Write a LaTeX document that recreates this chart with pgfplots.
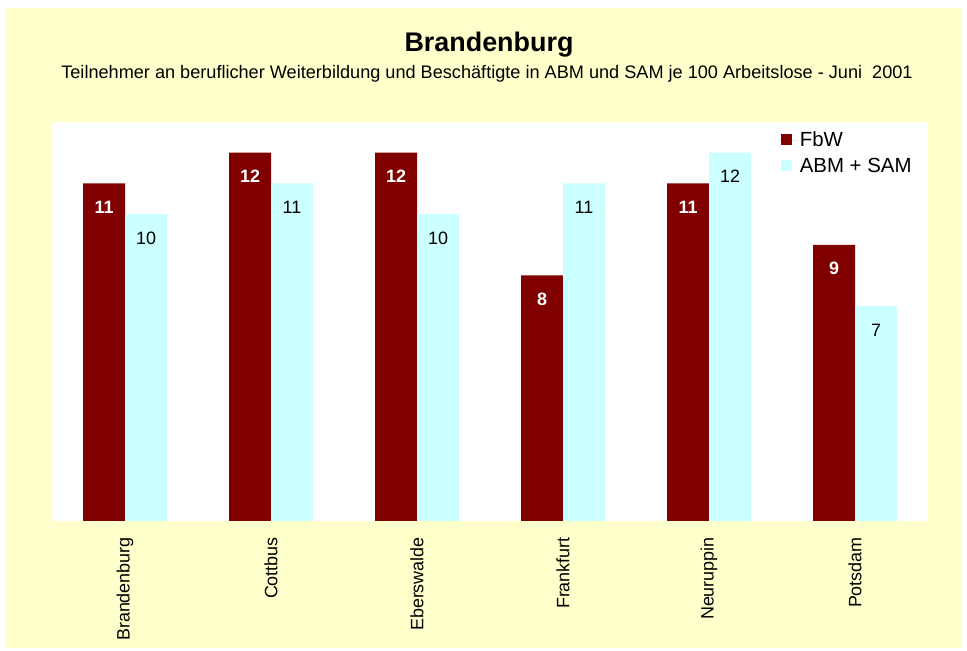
\documentclass[border=0pt]{standalone}
\usepackage{pgfplots}
\pgfplotsset{compat=1.18}
\usepackage{fontspec}
\setmainfont{Liberation Sans}
\definecolor{bgyellow}{RGB}{255,255,204}
\definecolor{fbwred}{RGB}{128,0,0}
\definecolor{abmcyan}{RGB}{204,255,255}

\begin{document}
\begin{tikzpicture}[x=1bp,y=1bp]
% page and yellow panel
\path[use as bounding box,fill=white] (0,0) rectangle (967,651);
\fill[bgyellow] (5,3) rectangle (962,643);
\node[font=\bfseries\fontsize{27}{30}\selectfont] at (489,606) {Brandenburg};
\node[font=\fontsize{18.2}{21}\selectfont] at (487,577)
  {Teilnehmer an beruflicher Weiterbildung und Besch\"aftigte in ABM und SAM je 100 Arbeitslose - Juni\ \ 2001};
\begin{axis}[
  at={(52bp,130bp)}, anchor=south west,
  scale only axis, width=876bp, height=399bp,
  axis background/.style={fill=white},
  axis line style={draw=none},
  ybar=0pt, bar width=42bp,
  ymin=0, ymax=13, ytick=\empty,
  xmin=-0.5, xmax=5.5,
  xtick={0,1,2,3,4,5},
  xticklabels={Brandenburg,Cottbus,Eberswalde,Frankfurt,Neuruppin,Potsdam},
  major tick length=0pt,
  xticklabel style={rotate=90, anchor=east, inner sep=0pt, font=\fontsize{18}{20}\selectfont},
  xticklabel shift=16bp,
  /pgf/number format/assume math mode=true,
  nodes near coords,
  every node near coord/.append style={anchor=center, yshift=-24bp, font=\fontsize{18}{20}\selectfont},
  legend style={at={(0.826,0.985)}, anchor=north west, draw=none, fill=none,
    font=\fontsize{20.5}{22}\selectfont, row sep=6bp},
  legend cell align=left,
  legend image code/.code={\fill[#1] (2bp,-5bp) rectangle (13bp,6bp);
    \path (0bp,0bp) -- (19bp,0bp);},
]
\addplot[fill=fbwred, draw=none,
  every node near coord/.append style={text=white, font=\bfseries\fontsize{18}{20}\selectfont}]
  coordinates {(0,11) (1,12) (2,12) (3,8) (4,11) (5,9)};
\addlegendentry{FbW}
\addplot[fill=abmcyan, draw=none,
  every node near coord/.append style={text=black}]
  coordinates {(0,10) (1,11) (2,10) (3,11) (4,12) (5,7)};
\addlegendentry{ABM + SAM}
\end{axis}
\end{tikzpicture}
\end{document}
